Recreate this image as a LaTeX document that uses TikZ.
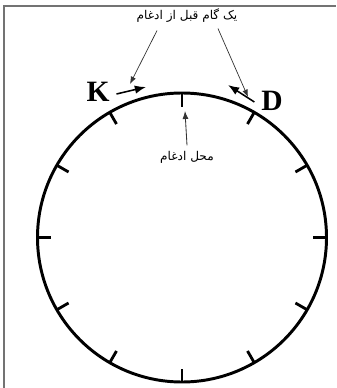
\documentclass[tikz,border=0pt]{standalone}
\usepackage{fontspec}
\setmainfont{Liberation Serif}
\newfontfamily\arabicfont[Script=Arabic]{DejaVu Sans}
\TeXXeTstate=1
\usetikzlibrary{arrows.meta,calc}

\begin{document}
\begin{tikzpicture}[x=0.025cm,y=-0.025cm,>=Latex]
  \useasboundingbox (0,0) rectangle (336,388);
  \draw[black!55,line width=1.4pt] (4,388) -- (4,6) -- (336,6);
  % clock face
  \draw[line width=2.1pt] (182,237.5) circle (144.5);
  \foreach \a in {0,30,...,330}
    \draw[line width=2pt] ($(182,237.5)+(\a:144.5)$) -- ($(182,237.5)+(\a:131)$);
  % labels
  \node[font=\fontsize{21}{24}\selectfont\bfseries] (K) at (98,92) {K};
  \node[font=\fontsize{21}{24}\selectfont\bfseries] (D) at (272,101) {D};
  \node[inner sep=1pt,font=\arabicfont\fontsize{8.6}{10}\selectfont] (step)
    at (187,16) {\beginR یک گام قبل از ادغام\endR};
  \node[inner sep=1pt,font=\arabicfont\fontsize{8.6}{10}\selectfont] (merge)
    at (187,157) {\beginR محل ادغام\endR};
  \coordinate (ktip) at (146,87);
  \coordinate (dtip) at (228,85);
  \coordinate (top) at (185,111);
  \draw[->,line width=1.1pt] (K.east) ++(2,2) -- (ktip);
  \draw[->,line width=1.1pt] (D.west) ++(-2,1) -- (dtip);
  \draw[->,black!80,line width=0.5pt] ($(step.south)+(-30,6)$) -- (130,84);
  \draw[->,black!80,line width=0.5pt] ($(step.south)+(31,4)$) -- (248,97);
  \draw[->,black!80,line width=0.6pt] (merge.north) ++(0,-4) -- (top);
\end{tikzpicture}
\end{document}
